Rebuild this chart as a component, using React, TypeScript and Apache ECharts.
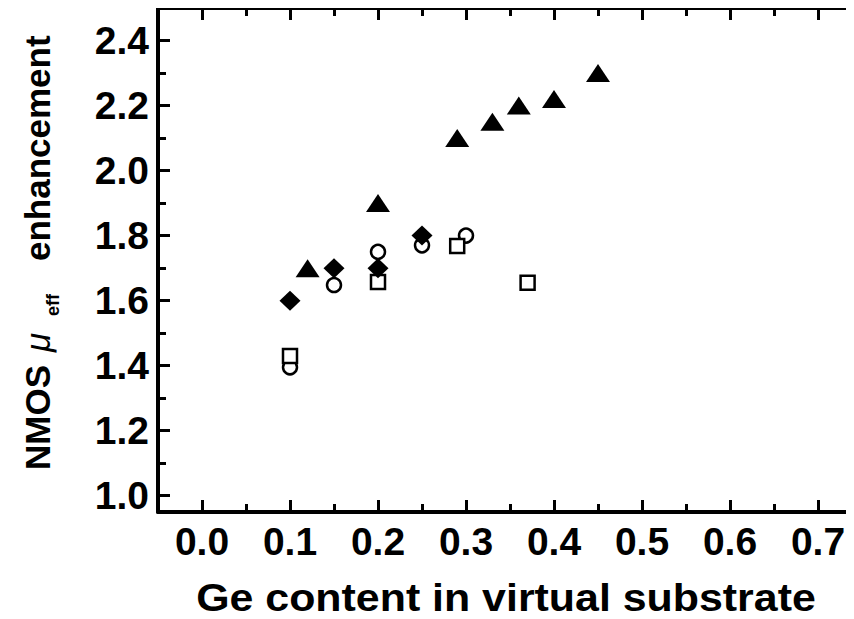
import React, { useEffect, useRef } from "react";
import * as echarts from "echarts";

// Ge content in the virtual substrate (x) vs NMOS effective-mobility enhancement (y)
const triangleX = [0.12, 0.2, 0.29, 0.33, 0.36, 0.4, 0.45];
const triangleY = [1.7, 1.9, 2.1, 2.15, 2.2, 2.22, 2.3];

const diamondX = [0.1, 0.15, 0.2, 0.25];
const diamondY = [1.6, 1.7, 1.7, 1.8];

const circleX = [0.1, 0.15, 0.2, 0.25, 0.3];
const circleY = [1.395, 1.648, 1.75, 1.77, 1.8];

const squareX = [0.1, 0.2, 0.29, 0.37];
const squareY = [1.43, 1.657, 1.768, 1.655];

const xMajorTicks = [0.0, 0.1, 0.2, 0.3, 0.4, 0.5, 0.6, 0.7];
const xMinorTicks = [-0.05, 0.05, 0.15, 0.25, 0.35, 0.45, 0.55, 0.65, 0.75];
const yMajorTicks = [1.0, 1.2, 1.4, 1.6, 1.8, 2.0, 2.2, 2.4];
const yMinorTicks = [1.1, 1.3, 1.5, 1.7, 1.9, 2.1, 2.3, 2.5];

const X_MIN = -0.05;
const X_MAX = 0.75;
const Y_MIN = 0.95;
const Y_MAX = 2.5;

const FONT = "'Liberation Sans', Arial, sans-serif";

const pairs = (xs: number[], ys: number[]) => xs.map((x, i) => [x, ys[i]]);

const tickStyle = { color: "#000", width: 3 };
const lineStyle = { color: "#000", width: 4 };

function xAxisDef(grid: number, position: "bottom" | "top", ticks: number[], major: boolean, labels: boolean) {
  return {
    type: "value",
    gridIndex: grid,
    position,
    min: X_MIN,
    max: X_MAX,
    axisLine: { show: major, onZero: false, lineStyle },
    axisTick: {
      show: true,
      inside: true,
      length: major ? 12 : 8,
      customValues: ticks,
      lineStyle: tickStyle,
    },
    axisLabel: {
      show: labels,
      customValues: ticks,
      formatter: (v: number) => v.toFixed(1),
      fontSize: 39,
      fontWeight: "bold",
      fontFamily: FONT,
      color: "#000",
      margin: 10,
    },
    splitLine: { show: false },
  };
}

function yAxisDef(grid: number, position: "left" | "right", ticks: number[], major: boolean, labels: boolean) {
  return {
    type: "value",
    gridIndex: grid,
    position,
    min: Y_MIN,
    max: Y_MAX,
    axisLine: { show: major, onZero: false, lineStyle },
    axisTick: {
      show: true,
      inside: true,
      length: major ? 12 : 8,
      customValues: ticks,
      lineStyle: tickStyle,
    },
    axisLabel: {
      show: labels,
      customValues: ticks,
      formatter: (v: number) => v.toFixed(1),
      fontSize: 39,
      fontWeight: "bold",
      fontFamily: FONT,
      color: "#000",
      margin: 9,
    },
    splitLine: { show: false },
  };
}

// Vertical axis title, laid out along its own baseline inside a rotated group.
const TITLE_SIZE = 35;
const SUB_SIZE = 18;
const baselineY = (size: number) => -0.3465 * size;

function titlePart(text: string, along: number, size: number, drop: number, italic = false, bold = true) {
  return {
    type: "text",
    x: along,
    y: baselineY(size) + drop,
    style: {
      text,
      fontSize: size,
      fontWeight: bold ? "bold" : "normal",
      fontStyle: italic ? "italic" : "normal",
      fontFamily: FONT,
      fill: "#000",
      align: "left",
      verticalAlign: "middle",
    },
  };
}

export default function App() {
  const ref = useRef<HTMLDivElement>(null);

  useEffect(() => {
    if (!ref.current) return;
    const chart = echarts.init(ref.current, undefined, { renderer: "svg" });
    const gridRect = { left: 158, top: 8, width: 704, height: 504, outerBoundsMode: "none" };

    const openStyle = { color: "#fff", borderColor: "#000", borderWidth: 2.5, opacity: 1 };
    const solidStyle = { color: "#000", opacity: 1 };

    chart.setOption({
      animation: false,
      backgroundColor: "#fff",
      grid: [{ ...gridRect }, { ...gridRect }],
      xAxis: [
        xAxisDef(0, "bottom", xMajorTicks, true, true),
        xAxisDef(0, "top", xMajorTicks, true, false),
        xAxisDef(1, "bottom", xMinorTicks, false, false),
        xAxisDef(1, "top", xMinorTicks, false, false),
      ],
      yAxis: [
        yAxisDef(0, "left", yMajorTicks, true, true),
        yAxisDef(0, "right", yMajorTicks, true, false),
        yAxisDef(1, "left", yMinorTicks, false, false),
        yAxisDef(1, "right", yMinorTicks, false, false),
      ],
      series: [
        {
          type: "scatter",
          xAxisIndex: 0,
          yAxisIndex: 0,
          data: pairs(circleX, circleY),
          symbol: "circle",
          symbolSize: 14,
          itemStyle: openStyle,
        },
        {
          type: "scatter",
          xAxisIndex: 0,
          yAxisIndex: 0,
          data: pairs(squareX, squareY),
          symbol: "rect",
          symbolSize: 14,
          itemStyle: openStyle,
        },
        {
          type: "scatter",
          xAxisIndex: 0,
          yAxisIndex: 0,
          data: pairs(diamondX, diamondY),
          symbol: "diamond",
          symbolSize: [21, 20],
          itemStyle: solidStyle,
        },
        {
          type: "scatter",
          xAxisIndex: 0,
          yAxisIndex: 0,
          data: pairs(triangleX, triangleY),
          symbol: "triangle",
          symbolSize: [24, 18],
          itemStyle: solidStyle,
        },
      ],
      graphic: [
        {
          type: "text",
          x: 506,
          y: 598,
          scaleX: 1.1,
          style: {
            text: "Ge content in virtual substrate",
            fontSize: 39,
            fontWeight: "bold",
            fontFamily: FONT,
            fill: "#000",
            align: "center",
            verticalAlign: "middle",
          },
        },
        {
          type: "group",
          x: 50,
          y: 470,
          rotation: Math.PI / 2,
          children: [
            titlePart("NMOS", 0, TITLE_SIZE, 0),
            titlePart("μ", 118, TITLE_SIZE, 0, true, false),
            titlePart("eff", 154, SUB_SIZE, 9),
            titlePart("enhancement", 209, TITLE_SIZE, 0),
          ],
        },
      ],
    });

    return () => chart.dispose();
  }, []);

  return <div ref={ref} style={{ width: 854, height: 619, margin: -8 }} />;
}
